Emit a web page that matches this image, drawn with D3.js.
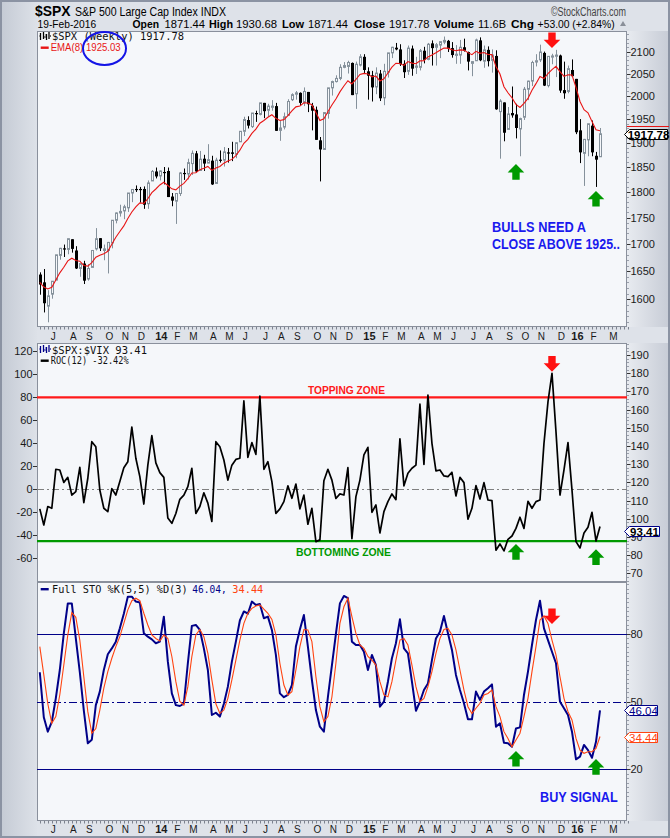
<!DOCTYPE html>
<meta charset="utf-8">
<style>
    body { margin: 0; }
    svg { display: block; font-family: "Liberation Sans", Arial, sans-serif; }
    .mono { font-family: "DejaVu Sans Mono", monospace; }
    .tick text { font-size: 11px; fill: #1a1a1a; }
</style>
<svg width="670" height="838"></svg>

<script src="https://d3js.org/d3.v7.min.js"></script>
<script>

    // weekly $SPX bars, week of 10-Jun-2013 .. week of 15-Feb-2016
    var opens = [
        1644,1630,1588,1609,1634,1679,1692,1690,1709,1688,
        1655,1664,1636,1657,1691,1711,1688,1688,1702,1745,
        1759,1763,1769,1798,1806,1806,1806,1777,1822,1841,
        1832,1840,1842,1791,1782,1797,1838,1836,1857,1878,
        1843,1867,1858,1863,1817,1865,1864,1880,1880,1876,
        1902,1924,1948,1934,1963,1960,1985,1969,1976,1978,
        1926,1933,1958,1992,2004,2007,1986,2009,1979,1970,
        1905,1886,1962,2018,2032,2039,2064,2066,2074,2005,
        2069,2088,2055,2046,2020,2050,1996,2053,2097,2109,
        2105,2072,2055,2107,2064,2064,2102,2082,2119,2110,
        2115,2122,2125,2108,2093,2092,2110,2099,2073,2079,
        2126,2078,2104,2080,2090,1966,1986,1928,1963,1960,
        1929,1954,2015,2033,2076,2081,2097,2023,2089,2090,
        2091,2013,2010,2058,2038,1926,1878,1906,1936,1873,
        1871
    ];
    var highs = [
        1648,1654,1616,1632,1680,1693,1699,1710,1709,1696,
        1664,1669,1663,1689,1730,1711,1699,1704,1745,1760,
        1775,1775,1798,1802,1813,1810,1811,1823,1844,1849,
        1843,1850,1849,1798,1798,1840,1847,1867,1884,1883,
        1883,1875,1897,1873,1869,1884,1891,1889,1902,1901,
        1924,1955,1956,1963,1968,1985,1985,1983,1991,1985,
        1946,1964,1993,2006,2011,2008,2019,2009,1985,1977,
        1912,1965,2018,2034,2046,2071,2076,2079,2075,2077,
        2094,2094,2064,2056,2064,2058,2072,2097,2111,2120,
        2117,2080,2114,2114,2088,2106,2111,2120,2126,2120,
        2123,2135,2127,2122,2115,2127,2130,2100,2078,2130,
        2133,2114,2112,2105,2103,1993,1986,1976,2021,1983,
        1953,2020,2034,2079,2094,2116,2100,2089,2095,2104,
        2093,2077,2068,2082,2038,1950,1908,1940,1947,1881,
        1931
    ];
    var lows = [
        1608,1577,1560,1601,1634,1671,1676,1681,1684,1654,
        1640,1627,1633,1657,1688,1687,1670,1646,1692,1739,
        1752,1747,1761,1780,1800,1779,1767,1767,1822,1827,
        1823,1815,1790,1772,1738,1792,1824,1825,1834,1839,
        1843,1842,1858,1814,1816,1859,1851,1859,1862,1868,
        1902,1914,1930,1931,1944,1958,1952,1955,1968,1925,
        1904,1928,1958,1989,1992,1979,1978,1965,1926,1906,
        1821,1886,1951,2001,2030,2035,2062,2050,2002,1972,
        2066,2051,1992,1988,2004,1989,1980,2041,2085,2103,
        2067,2040,2047,2045,2049,2057,2073,2080,2068,2068,
        2085,2117,2099,2086,2072,2072,2100,2057,2044,2079,
        2078,2063,2066,2052,1970,1867,1903,1928,1953,1909,
        1872,1948,1991,2022,2066,2076,2022,2019,2071,2042,
        2007,1994,2006,2044,1918,1858,1812,1872,1872,1810,
        1871
    ];
    var closes = [
        1626,1593,1606,1632,1680,1692,1692,1710,1691,1655,
        1664,1633,1655,1688,1710,1692,1691,1703,1745,1759,
        1762,1771,1798,1805,1806,1805,1775,1818,1841,1831,
        1842,1838,1790,1783,1797,1838,1836,1859,1878,1841,
        1866,1857,1865,1815,1864,1863,1881,1878,1877,1900,
        1924,1949,1936,1963,1961,1985,1967,1978,1978,1925,
        1931,1955,1988,2003,2007,1985,2010,1982,1968,1906,
        1886,1964,2018,2032,2039,2064,2068,2075,2002,2071,
        2088,2058,2045,2019,2051,1995,2055,2097,2110,2105,
        2071,2053,2108,2061,2067,2102,2081,2117,2108,2116,
        2123,2126,2107,2092,2094,2110,2102,2077,2077,2127,
        2080,2104,2078,2092,1971,1989,1921,1961,1958,1931,
        1951,2015,2033,2075,2079,2099,2023,2089,2090,2092,
        2012,2006,2061,2044,1922,1880,1907,1940,1880,1865,
        1918.78
    ];
    var emaSeed = 1631;

    // ROC(12) of $SPX:$VIX
    var roc = [
        -17,-31,-15,-16.5,17.4,16.8,6,10.4,-5,-2,
        19,-11.6,9.6,41.4,37,-0.6,-16.5,-19.4,0.6,-5,
        6.7,18.8,24,54,27,11,-12.8,21,46.7,23,
        14.5,10.4,-25,-29.6,-21,-8.7,-5,2.3,18.3,-21,
        -15,-3,-12,-28,41.4,37,25.5,8,21,26,
        27,76.8,27.8,40.6,30.4,81,17.4,24,6.7,-21,
        -17,-10.7,3,-7.8,4.6,-17,-5,-30.4,-16.5,-45.5,
        -44,7.5,17.4,8,-8,-4,-5,18.8,-43,-6.4,
        8,29.9,36.5,-20,-13.6,-38,-19.4,-10.7,-4,-9,
        43.8,3,14,18.3,21,74,21.7,82,40,16,
        16.8,11.6,11,14.8,-5.8,10.4,5.8,-26,-16.5,3.2,
        -8.4,5.8,-9.3,-9.9,-53,-47.5,-53.6,-43.5,-40.6,-34,
        -24.3,-34,-10.4,-16.5,-10.7,-9.3,40,76,100.9,50,
        -5,16.8,40.6,-0.6,-45.5,-51,-38,-33,-20,-45,
        -32.42
    ];

    // Full STO %K(5,5) and %D(3)
    var stoK = [
        63,43,36.6,41,51.4,64,80.3,93.6,93.6,78,
        63,46,31.4,33,48.4,54.4,64,71,73.6,76.6,
        82.5,89,96.6,96.6,94.4,94,80.3,78.8,77.6,75.9,
        76.6,87.7,67.7,53.6,48.4,48,49,67,83.6,84,
        81.8,73.6,64,44,45,43.3,49,56.6,67.7,76.6,
        86,90,89,94.4,92.9,93.3,87,87.7,81.8,70.7,
        53.6,51.9,52.9,57.3,74.4,82,88.4,74.4,59.6,46.2,
        38.8,36.6,52,66,80,93.6,96.9,95.9,76.6,75.1,
        75.1,72.1,64,70.7,66.2,47.7,49.9,58.8,69.2,75.9,
        86.5,73.6,71.4,58.8,45.9,49.9,55.1,58,68.4,78,
        81,88,80.3,72.9,61.8,55.1,49.2,42.1,42.1,54.4,
        50.7,54.4,55.9,57.6,38.8,40.3,31.7,31.4,29.9,38,
        38.5,52.9,63.3,75.1,86.2,94.8,82.5,77.3,72.1,67,
        49.9,47,44,36.6,24.3,25.5,30.7,28.4,25,32.1,
        46.04
    ];
    var stoD = [
        74.4,61.8,49,40.3,43.3,53,66.2,79.6,89.5,87.4,
        77.3,61,45.5,35.9,38,46.2,55.9,63.3,69.2,74.4,
        78.8,84.7,90.7,94.8,95.9,94.8,89.2,84,79.6,78,
        76.9,79.6,78,70,58.8,50,48.4,56.6,70,79.6,
        82,78.8,71.4,59.6,49,44.7,46.2,51.4,59.6,68.4,
        77.3,84.7,89.2,91.4,92.4,92.9,91,89.2,86.5,79.6,
        67,57.3,52.9,54.4,64,74.4,82,81.8,76.6,61,
        47.7,41,43.3,52,67,84.7,92.1,95.9,87.7,80.3,
        75.1,73.6,70,68.4,66.2,58.8,52.9,52.1,58.8,68.4,
        77.3,78,75.1,66.2,56.6,49.9,51.4,56.6,63.3,71.4,
        78,82,82.5,79.6,72.9,64,55.1,47.7,44.7,47,
        49.2,52.9,53.6,55.1,47.7,43.3,36.6,33.6,29.9,32.9,
        35.9,43.3,51.4,63.3,74.4,86.2,88,84.7,77.3,70.7,
        61,51.4,45.5,41.8,33.6,28.4,27,27.7,27.7,29.2,
        34.44
    ];

    var monthLabels = ["J","A","S","O","N","D","14","F","M","A","M","J",
                       "J","A","S","O","N","D","15","F","M","A","M","J",
                       "J","A","S","O","N","D","16","F","M"];
    var priceTicks = [1600,1650,1700,1750,1800,1850,1900,1950,2000,2050,2100];
    var rocTicks = [-60,-40,-20,0,20,40,60,80,100,120];
    var ratioTicks = [70,80,90,100,110,120,130,140,150,160,170,180,190];
    var stoTicks = [20,50,80];

    // markers: [bar index, value, direction]
    var priceArrows = [[128, 2108, "down", "red"], [119, 1856, "up", "green"], [139, 1802, "up", "green"]];
    var rocArrows = [[128, 102.3, "down", "red"], [119, -47.6, "up", "green"], [139, -52.2, "up", "green"]];
    var stoArrows = [[128, 84.4, "down", "red"], [119, 28, "up", "green"], [139, 24.4, "up", "green"]];

    var svg = d3.select("svg");
    var left = 37, right = 627;
    var p1 = [31, 327], p2 = [343, 582], p3 = [582, 821];
    var panelFill = "#f5f7fa", hollowColor = "#85919b";
    var red = "#ff1a1a", green = "#009900", navy = "#000088", orange = "#ff4411";

    var x = d3.scaleLinear().domain([0, closes.length - 1]).range([39.8, 600]);
    var px = function (i) { return Math.round(x(i)) + 0.5; };
    var y1 = d3.scaleLog().domain([1552, 2148]).range([p1[1], p1[0]]);
    var y2 = d3.scaleLinear().domain([-80.6, 127.2]).range([p2[1], p2[0]]);
    var y2r = d3.scaleLinear().domain([65.2, 196.6]).range([p2[1], p2[0]]);
    var y3 = d3.scaleLinear().domain([-3.1, 103.1]).range([p3[1], p3[0]]);

    function txt(parent, s, xx, yy, o) {
        o = o || {};
        var t = parent.append("text").attr("x", xx).attr("y", yy).text(s);
        if (o.size) t.style("font-size", o.size + "px");
        if (o.bold) t.style("font-weight", "bold");
        if (o.fill) t.attr("fill", o.fill);
        if (o.anchor) t.attr("text-anchor", o.anchor);
        if (o.cls) t.attr("class", o.cls);
        if (o.len) t.attr("textLength", o.len).attr("lengthAdjust", "spacingAndGlyphs");
        return t;
    }

    // ---- background and frames
    var defs = svg.append("defs");
    function grad(id, a, b) {
        var g = defs.append("linearGradient").attr("id", id).attr("x1", 0).attr("x2", 1).attr("y1", 0).attr("y2", 0);
        g.append("stop").attr("offset", 0).attr("stop-color", a);
        g.append("stop").attr("offset", 1).attr("stop-color", b);
    }
    grad("leftFade", "#c4cad4", "#dde1e8");
    grad("rightStrip", "#e8ebf0", "#c7ccd6");

    svg.append("rect").attr("width", 670).attr("height", 838).attr("fill", "#dee2e9");
    svg.append("rect").attr("width", 37).attr("height", 838).attr("fill", "url(#leftFade)");
    [p1, p2, p3].forEach(function (p) {
        svg.append("rect").attr("x", right).attr("y", p[0]).attr("width", 42).attr("height", p[1] - p[0])
            .attr("fill", "url(#rightStrip)");
        svg.append("rect").attr("x", left + 0.5).attr("y", p[0] + 0.5)
            .attr("width", right - left - 1).attr("height", p[1] - p[0] - 1)
            .attr("fill", panelFill).attr("stroke", "#8a909c");
    });
    svg.append("rect").attr("x", 1).attr("y", 1).attr("width", 668).attr("height", 836)
        .attr("fill", "none").attr("stroke", "#8b93a3").attr("stroke-width", 2);

    // ---- header
    var hdr = svg.append("g");
    txt(hdr, "$SPX", 35, 16, {size: 14, bold: true, len: 35.5});
    txt(hdr, "S&P 500 Large Cap Index INDX", 75, 16, {size: 12, len: 151});
    txt(hdr, "\u00a9StockCharts.com", 551, 16, {size: 12, fill: "#444", len: 75});
    txt(hdr, "19-Feb-2016", 37.6, 27.5, {size: 11.5, len: 58.5});
    [["Open", 132.5, 26.5, true], ["1871.44", 164.5, 40.5], ["High", 209, 24, true], ["1930.68", 236, 41],
     ["Low", 282, 22, true], ["1871.44", 308, 40], ["Close", 354, 31, true], ["1917.78", 389, 40.5],
     ["Volume", 434, 40, true], ["11.6B", 478, 28], ["Chg", 511, 23, true], ["+53.00 (+2.84%)", 537.6, 77]]
        .forEach(function (d) { txt(hdr, d[0], d[1], 27.5, {size: 11.5, bold: d[3], len: d[2]}); });
    hdr.append("path").attr("d", "M620,26L626,26L623,21Z").attr("fill", "#8a8f99");

    // ---- x axis (months) under panel 1 and panel 3
    var weeks = d3.timeMonday.range(new Date(2013, 5, 10), new Date(2016, 2, 15));
    var monthIdx = [];
    weeks.forEach(function (d, i) {
        if (i > 0 && d.getMonth() !== weeks[i - 1].getMonth()) monthIdx.push(i);
    });
    [[p1[1], 339.5], [p3[1], 832.5]].forEach(function (a) {
        var g = svg.append("g");
        g.selectAll("line").data(d3.range(0, weeks.length + 3)).enter().append("line")
            .attr("x1", function (i) { return px(i); }).attr("x2", function (i) { return px(i); })
            .attr("y1", a[0]).attr("y2", a[0] + 2.5).attr("stroke", "#7d838f");
        g.selectAll("text").data(monthIdx).enter().append("text")
            .attr("x", function (i) { return x(i) + 1.5; }).attr("y", a[1])
            .attr("text-anchor", "middle")
            .style("font-size", function (i, k) { return monthLabels[k].length > 1 ? "11px" : "10px"; })
            .style("font-weight", function (i, k) { return monthLabels[k].length > 1 ? "bold" : "normal"; })
            .attr("fill", "#1a1a1a")
            .text(function (i, k) { return monthLabels[k]; });
    });

    // ---- right/left axis helpers
    function rightAxis(scale, ticks, minor) {
        var g = svg.append("g");
        g.selectAll(".minor").data(minor).enter().append("line")
            .attr("x1", right).attr("x2", right + 2)
            .attr("y1", function (v) { return Math.round(scale(v)) + 0.5; })
            .attr("y2", function (v) { return Math.round(scale(v)) + 0.5; })
            .attr("stroke", "#9aa0ab");
        var t = g.selectAll(".tick").data(ticks).enter().append("g").attr("class", "tick")
            .attr("transform", function (v) { return "translate(0," + (Math.round(scale(v)) + 0.5) + ")"; });
        t.append("line").attr("x1", right).attr("x2", right + 3.5).attr("stroke", "#333");
        t.append("text").attr("x", 630.5).attr("dy", "0.36em").text(function (v) { return v; });
    }

    function arrow(g, cx, tip, dir, color) {
        var hw = 8.3, sw = 3.7, hh = 8.3, L = 15.6, s = dir === "down" ? -1 : 1;
        var pts = [[cx, tip], [cx - hw, tip + s * hh], [cx - sw, tip + s * hh], [cx - sw, tip + s * L],
                   [cx + sw, tip + s * L], [cx + sw, tip + s * hh], [cx + hw, tip + s * hh]];
        g.append("path").attr("d", "M" + pts.join("L") + "Z")
            .attr("fill", color === "red" ? "#ff1010" : "#009a00");
    }

    function legendDash(yy, color) {
        svg.append("rect").attr("x", 40.7).attr("y", yy - 1).attr("width", 8).attr("height", 2.4).attr("fill", color);
    }
    function barIcon(yy, color) {
        svg.append("path")
            .attr("d", "M40.5,"+(yy-5)+"v7M39.5,"+(yy-2)+"h1M43.5,"+(yy-6)+"v7M44.5,"+(yy-1)+"h1" +
                       "M46.5,"+(yy-4)+"v6M45.5,"+(yy-3)+"h1M49,"+(yy-6)+"v7M50,"+(yy-2)+"h0.8")
            .attr("stroke", color).attr("stroke-width", 1.3).attr("fill", "none");
    }

    function valueBox(yy, label, stroke, color, bold, x1) {
        svg.append("path")
            .attr("d", "M624.5," + yy + "L629.5," + (yy - 5) + "H" + x1 + "V" + (yy + 5) + "H629.5Z")
            .attr("fill", "#fff").attr("stroke", stroke);
        txt(svg, label, (629.5 + x1) / 2, yy + 4, {size: 11.5, bold: bold, fill: color, anchor: "middle"});
    }

    // ================= panel 1 : weekly candles + EMA(8)
    var g1 = svg.append("g");
    var bars = closes.map(function (c, i) { return {i: i, o: opens[i], h: highs[i], l: lows[i], c: c}; });
    var candle = g1.selectAll(".candle").data(bars).enter().append("g").attr("class", "candle");
    candle.append("line")
        .attr("x1", function (d) { return px(d.i); }).attr("x2", function (d) { return px(d.i); })
        .attr("y1", function (d) { return y1(d.h); }).attr("y2", function (d) { return y1(d.l); })
        .attr("stroke", function (d) { return d.c > d.o ? hollowColor : "#000"; });
    candle.append("rect")
        .attr("x", function (d) { return d.c > d.o ? px(d.i) - 1 : px(d.i) - 1.5; })
        .attr("width", function (d) { return d.c > d.o ? 2 : 3; })
        .attr("y", function (d) { return y1(Math.max(d.o, d.c)); })
        .attr("height", function (d) {
            return Math.max(1.2, y1(Math.min(d.o, d.c)) - y1(Math.max(d.o, d.c)));
        })
        .attr("fill", function (d) { return d.c > d.o ? panelFill : "#000"; })
        .attr("stroke", function (d) { return d.c > d.o ? hollowColor : "none"; });

    var ema = [], prev = emaSeed;
    closes.forEach(function (c) { prev = prev + (c - prev) * 2 / 9; ema.push(prev); });
    g1.append("path").datum(ema)
        .attr("d", d3.line().x(function (d, i) { return x(i); }).y(function (d) { return y1(d); }))
        .attr("fill", "none").attr("stroke", "#e81515").attr("stroke-width", 1.1);

    var minor1 = d3.range(1560, 2141, 10);
    rightAxis(y1, priceTicks, minor1);
    svg.append("line").attr("x1", right).attr("x2", 669).attr("y1", 126.5).attr("y2", 126.5)
        .attr("stroke", "#e81515");
    valueBox(Math.round(y1(1917.78)) + 0.5, "1917.78", "#000", "#000", true, 667.5);

    priceArrows.forEach(function (a) { arrow(g1, x(a[0]), y1(a[1]), a[2], a[3]); });

    barIcon(38, "#000");
    txt(svg, "$SPX (Weekly) 1917.78", 52, 39.5, {size: 10.5, cls: "mono", fill: "#111", len: 132});
    legendDash(47.5, "#e81515");
    txt(svg, "EMA(8) 1925.03", 50.7, 51, {size: 11, fill: "#e81515", len: 70});
    svg.append("ellipse").attr("cx", 104.5).attr("cy", 48.5).attr("rx", 21.5).attr("ry", 16.5)
        .attr("fill", "none").attr("stroke", "#1414e6").attr("stroke-width", 2);

    txt(svg, "BULLS NEED A", 492, 231.5, {size: 14, bold: true, fill: "#1a1aee", len: 94});
    txt(svg, "CLOSE ABOVE 1925..", 492, 249.3, {size: 14, bold: true, fill: "#1a1aee", len: 128});

    // ================= panel 2 : ROC(12) of $SPX:$VIX
    var g2 = svg.append("g");
    g2.append("line").attr("x1", left).attr("x2", right).attr("y1", Math.round(y2(0)) + 0.5).attr("y2", Math.round(y2(0)) + 0.5)
        .attr("stroke", "#808080").attr("stroke-dasharray", "7,3,2,3");
    g2.append("line").attr("x1", left).attr("x2", right).attr("y1", y2(80)).attr("y2", y2(80))
        .attr("stroke", red).attr("stroke-width", 2.2);
    g2.append("line").attr("x1", left).attr("x2", right).attr("y1", y2(-45)).attr("y2", y2(-45))
        .attr("stroke", green).attr("stroke-width", 2.2);
    g2.append("path").datum(roc)
        .attr("d", d3.line().x(function (d, i) { return x(i); }).y(function (d) { return y2(d); }))
        .attr("fill", "none").attr("stroke", "#000").attr("stroke-width", 1.7).attr("stroke-linejoin", "round");

    var lt = svg.append("g").selectAll(".tick").data(rocTicks).enter().append("g").attr("class", "tick")
        .attr("transform", function (v) { return "translate(0," + (Math.round(y2(v)) + 0.5) + ")"; });
    lt.append("line").attr("x1", 33).attr("x2", left).attr("stroke", "#333");
    lt.append("text").attr("x", 32.5).attr("dy", "0.36em").attr("text-anchor", "end").text(function (v) { return v; });
    rightAxis(y2r, ratioTicks, d3.range(66, 197, 2));
    valueBox(Math.round(y2r(93.41)) + 0.5, "93.41", navy, "#000", true, 659.5);

    txt(g2, "TOPPING ZONE", 308, 394, {size: 11.5, bold: true, fill: red, len: 77});
    txt(g2, "BOTTOMING ZONE", 296, 556, {size: 11.5, bold: true, fill: green, len: 95});
    rocArrows.forEach(function (a) { arrow(g2, x(a[0]), y2(a[1]), a[2], a[3]); });

    barIcon(351, navy);
    txt(svg, "$SPX:$VIX 93.41", 52, 353.5, {size: 10.5, cls: "mono", fill: "#111", len: 95});
    legendDash(360.5, "#000");
    txt(svg, "ROC(12) -32.42%", 50.7, 364, {size: 10.5, cls: "mono", fill: "#111", len: 78});

    // ================= panel 3 : Full Stochastics
    var g3 = svg.append("g");
    [80, 20].forEach(function (v) {
        g3.append("line").attr("x1", left).attr("x2", right)
            .attr("y1", Math.round(y3(v)) + 0.5).attr("y2", Math.round(y3(v)) + 0.5)
            .attr("stroke", navy).attr("stroke-width", 1.1);
    });
    g3.append("line").attr("x1", left).attr("x2", right)
        .attr("y1", Math.round(y3(50)) + 0.5).attr("y2", Math.round(y3(50)) + 0.5)
        .attr("stroke", navy).attr("stroke-dasharray", "8,3,2,3");
    g3.append("path").datum(stoK)
        .attr("d", d3.line().x(function (d, i) { return x(i); }).y(function (d) { return y3(d); }))
        .attr("fill", "none").attr("stroke", navy).attr("stroke-width", 2).attr("stroke-linejoin", "round");
    g3.append("path").datum(stoD)
        .attr("d", d3.line().x(function (d, i) { return x(i); }).y(function (d) { return y3(d); }))
        .attr("fill", "none").attr("stroke", orange).attr("stroke-width", 1.1);

    rightAxis(y3, stoTicks, d3.range(0, 103, 2));
    valueBox(Math.round(y3(46.04)) + 0.5, "46.04", navy, navy, false, 657.5);
    valueBox(Math.round(y3(34.44)) + 0.5, "34.44", orange, orange, false, 657.5);

    stoArrows.forEach(function (a) { arrow(g3, x(a[0]), y3(a[1]), a[2], a[3]); });
    txt(g3, "BUY SIGNAL", 540, 801.5, {size: 15, bold: true, fill: "#1a1aee", len: 77.7});

    legendDash(589, navy);
    txt(svg, "Full STO %K(5,5) %D(3)", 52, 593, {size: 10.5, cls: "mono", fill: "#111", len: 135.6});
    txt(svg, "46.04,", 192.3, 593, {size: 10.5, cls: "mono", fill: navy, len: 34.4});
    txt(svg, "34.44", 232.3, 593, {size: 10.5, cls: "mono", fill: orange, len: 31});

</script>
